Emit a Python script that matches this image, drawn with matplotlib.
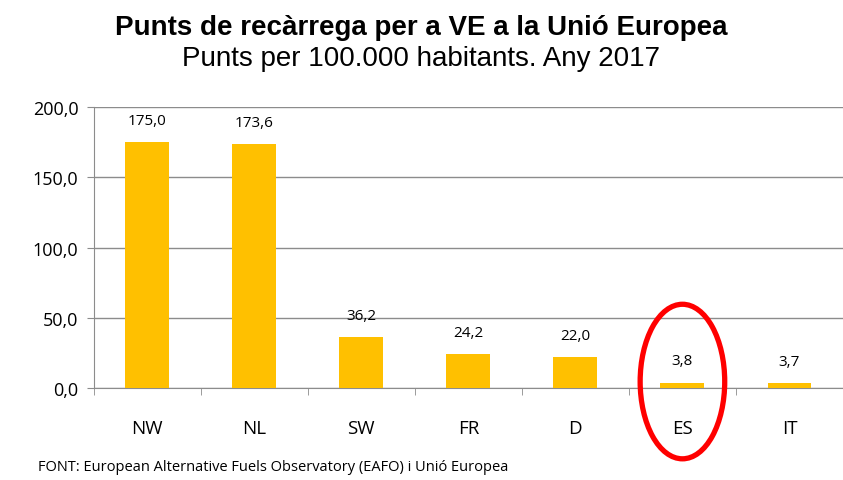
import matplotlib.pyplot as plt
from matplotlib.patches import Ellipse
import numpy as np

countries = ['NW', 'NL', 'SW', 'FR', 'D', 'ES', 'IT']
points = [175.0, 173.6, 36.2, 24.2, 22.0, 3.8, 3.7]
yticks = [0, 50, 100, 150, 200]

plt.rcParams['font.family'] = ['Open Sans', 'DejaVu Sans']

fig = plt.figure(figsize=(8.43, 4.81), dpi=100)
ax = fig.add_axes([93.7 / 843, 1 - 389 / 481, 1 - 93.7 / 843, (389 - 108) / 481])

x = np.arange(len(countries))
ax.bar(x, points, width=0.41, color='#FFC000', zorder=3)
for xi, v in zip(x, points):
    ax.text(xi, v + 15.5, f'{v:.1f}'.replace('.', ','), ha='center', va='center', fontsize=11)

ax.set_ylim(0, 200)
ax.set_xlim(-0.5, 6.4)
ax.set_yticks(yticks)
ax.set_yticklabels([f'{t:.1f}'.replace('.', ',') for t in yticks], fontsize=13)
ax.yaxis.grid(True, color='#8c8c8c', linewidth=1, zorder=0)
ax.set_xticks(x)
ax.set_xticklabels(countries, fontsize=13.5)
ax.set_xticks(np.arange(-0.5, 7, 1), minor=True)
ax.tick_params(axis='x', which='major', length=0, pad=22)
ax.tick_params(axis='x', which='minor', length=5, color='#8c8c8c', direction='out')
ax.tick_params(axis='y', length=5, color='#8c8c8c', pad=6)
for s in ['top', 'right']:
    ax.spines[s].set_visible(False)
for s in ['left', 'bottom']:
    ax.spines[s].set_color('#8c8c8c')

# red circle around Spain
ax.add_patch(Ellipse((5, 4.6), 0.79, 110, fill=False, edgecolor='#FF0000',
                     linewidth=3.8, clip_on=False, zorder=5))

fig.text(0.5, 1 - 28 / 481, 'Punts de recàrrega per a VE a la Unió Europea',
         ha='center', va='center', fontsize=20, fontweight='bold',
         family='Liberation Sans')
fig.text(0.5, 1 - 59 / 481, 'Punts per 100.000 habitants. Any 2017',
         ha='center', va='center', fontsize=20, family='Liberation Sans')
fig.text(38 / 843, 1 - 468 / 481, 'FONT: European Alternative Fuels Observatory (EAFO) i Unió Europea',
         ha='left', va='center', fontsize=10.5)

fig.savefig('out.png', dpi=100)
